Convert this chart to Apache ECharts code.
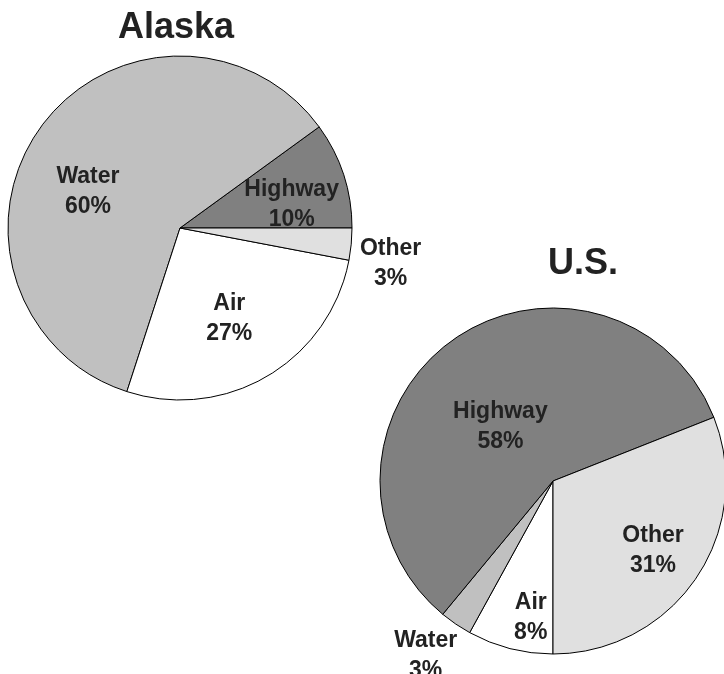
<!DOCTYPE html>
<html>
<head>
<meta charset="utf-8">
<script src="https://cdn.jsdelivr.net/npm/echarts@6/dist/echarts.min.js"></script>
<style>
  html, body { margin: 0; padding: 0; background: #fff; }
  #chart { width: 724px; height: 674px; }
</style>
</head>
<body>
<div id="chart"></div>
<script>
// Freight mode shares (percent), Alaska vs. the whole U.S.
const alaskaModes = ['Highway', 'Water', 'Air', 'Other'];
const alaskaShares = [10, 60, 27, 3];

const usModes = ['Air', 'Water', 'Highway', 'Other'];
const usShares = [8, 3, 58, 31];

const titles = ['Alaska', 'U.S.'];

// fill per mode
const modeColors = {
  Highway: '#808080',
  Water: '#c0c0c0',
  Air: '#ffffff',
  Other: '#e0e0e0'
};

// nudges from the default in-slice label spot, per pie and mode
const labelNudge = [
  { Highway: [27, 4], Water: [-20, 16], Air: [4, 14], Other: [122, 27] },
  { Highway: [0, 18], Water: [-77, 101], Air: [0, 50], Other: [26, 19] }
];

function buildData(names, values) {
  return names.map((n, i) => ({
    name: n,
    value: values[i],
    itemStyle: { color: modeColors[n] }
  }));
}

const fontStack = 'Liberation Sans, Arial, sans-serif';

const labelStyle = {
  show: true,
  position: 'inside',
  formatter: '{b}\n{c}%',
  fontFamily: fontStack,
  fontWeight: 'bold',
  fontSize: 23,
  lineHeight: 30,
  color: '#222'
};

const pieBase = {
  type: 'pie',
  avoidLabelOverlap: false,
  silent: true,
  animation: false,
  label: labelStyle,
  labelLine: { show: false },
  itemStyle: { borderColor: '#000', borderWidth: 1 },
  emphasis: { disabled: true }
};

const titleText = { fontFamily: fontStack, fontWeight: 'bold', fontSize: 36, color: '#222' };

const chart = echarts.init(document.getElementById('chart'), null, { renderer: 'canvas' });

chart.setOption({
  backgroundColor: '#fff',
  animation: false,
  title: [
    { text: titles[0], left: 113, top: 5, textStyle: titleText },
    { text: titles[1], left: 543, top: 241, textStyle: titleText }
  ],
  series: [
    Object.assign({}, pieBase, {
      name: titles[0],
      center: [180, 228],
      radius: 172,
      startAngle: 0,
      clockwise: false,
      data: buildData(alaskaModes, alaskaShares),
      labelLayout: function (p) {
        const n = labelNudge[0][alaskaModes[p.dataIndex]];
        return { dx: n[0], dy: n[1] };
      }
    }),
    Object.assign({}, pieBase, {
      name: titles[1],
      center: [553, 481],
      radius: 173,
      startAngle: 270,
      clockwise: true,
      data: buildData(usModes, usShares),
      labelLayout: function (p) {
        const n = labelNudge[1][usModes[p.dataIndex]];
        return { dx: n[0], dy: n[1] };
      }
    })
  ]
});
</script>
</body>
</html>
